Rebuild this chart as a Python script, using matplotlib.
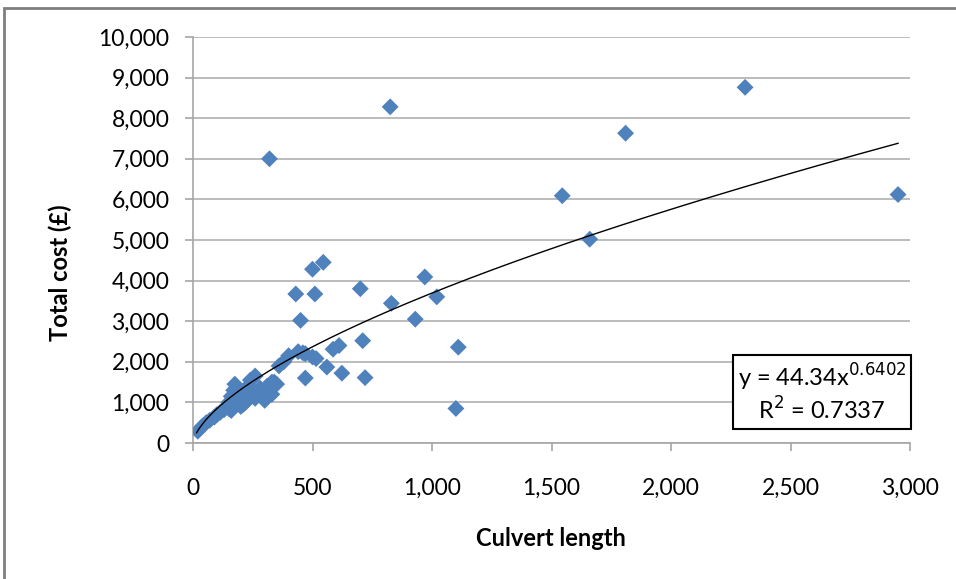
import numpy as np
import matplotlib
matplotlib.use("Agg")
import matplotlib.pyplot as plt
from matplotlib.patches import Rectangle
from matplotlib.ticker import FuncFormatter

# Culvert length vs total cost
culvert_length = [20, 40, 55, 70, 90, 100, 115, 130, 140, 150, 160, 170, 175, 150,
                  190, 200, 210, 220, 230, 240, 250, 260, 260, 270, 285, 300, 310,
                  320, 330, 340, 350, 360, 380, 400, 440, 470,
                  180, 200, 240, 280, 300, 330, 220, 160,
                  460, 470, 500, 515, 560, 586, 611, 623, 710, 720, 700, 430, 450,
                  510, 500, 545, 320, 825, 830, 930, 970, 1020, 1110, 1100, 1545,
                  1660, 1810, 2310, 2950]
total_cost = [290, 420, 500, 560, 640, 700, 760, 820, 900, 1000, 1150, 1300, 1450, 850,
              1100, 1250, 950, 1000, 1400, 1550, 1300, 1650, 1100, 1200, 1150, 1250, 1400,
              1300, 1200, 1500, 1450, 1900, 2000, 2150, 2250, 2200,
              1050, 900, 1200, 1350, 1050, 1500, 1300, 800,
              2220, 1600, 2120, 2080, 1870, 2310, 2400, 1720, 2520, 1610, 3800, 3670, 3020,
              3670, 4280, 4450, 7000, 8280, 3440, 3050, 4090, 3600, 2360, 850, 6090,
              5020, 7630, 8760, 6120]

fit_a = 44.34
fit_b = 0.6402
fit_r2 = 0.7337
fit_range = [15, 2950]

x_ticks = [0, 500, 1000, 1500, 2000, 2500, 3000]
y_ticks = [0, 1000, 2000, 3000, 4000, 5000, 6000, 7000, 8000, 9000, 10000]

plt.rcParams['font.family'] = ['Lato', 'DejaVu Sans']

fig = plt.figure(figsize=(9.56, 5.79), dpi=100)
ax = fig.add_axes([193/956, 1-443/579, 717/956, 406/579])

# outer frame (chart area border)
fig.patches.append(Rectangle((4/956, -0.1), 1.2, (1-8/579)+0.1, transform=fig.transFigure,
                             fill=False, edgecolor='#7f7f7f', linewidth=2.0, zorder=0))

ax.scatter(culvert_length, total_cost, marker='D', s=8.6**2, color='#4F81BD',
           edgecolors='none', zorder=3)

xf = np.linspace(fit_range[0], fit_range[1], 400)
ax.plot(xf, fit_a * xf**fit_b, color='black', linewidth=1.0, zorder=4)

ax.set_xlim(0, 3000)
ax.set_ylim(0, 10000)
ax.set_xticks(x_ticks)
ax.set_yticks(y_ticks)
fmt = FuncFormatter(lambda v, p: f"{int(v):,}")
ax.xaxis.set_major_formatter(fmt)
ax.yaxis.set_major_formatter(fmt)

ax.grid(axis='y', color='#b0b0b0', linewidth=1.2)
ax.set_axisbelow(True)
for s in ['top', 'right']:
    ax.spines[s].set_visible(False)
for s in ['left', 'bottom']:
    ax.spines[s].set_color('#a6a6a6')
    ax.spines[s].set_linewidth(1.2)
ax.tick_params(axis='both', colors='#a6a6a6', labelcolor='black', labelsize=16.5,
               length=6, width=1.2, direction='out')
ax.tick_params(axis='y', pad=11)
ax.tick_params(axis='x', pad=19)

ax.set_xlabel('Culvert length', fontsize=17, fontweight='bold')
ax.set_ylabel('Total cost (£)', fontsize=17, fontweight='bold')
ax.xaxis.label.set_va('center')
ax.yaxis.label.set_va('center')
ax.xaxis.set_label_coords(551/717 - 193/717, (443 - 538) / 406)
ax.yaxis.set_label_coords((60 - 193) / 717, (443 - 273) / 406)

ax.text(0.877, 0.123, f"y = {fit_a}x$^{{{fit_b}}}$\nR$^2$ = {fit_r2}",
        transform=ax.transAxes, ha='center', va='center', fontsize=17,
        linespacing=1.15, zorder=5,
        bbox=dict(boxstyle='square,pad=0.2', facecolor='white', edgecolor='black',
                  linewidth=1.5))

fig.savefig('out.png', dpi=100)
